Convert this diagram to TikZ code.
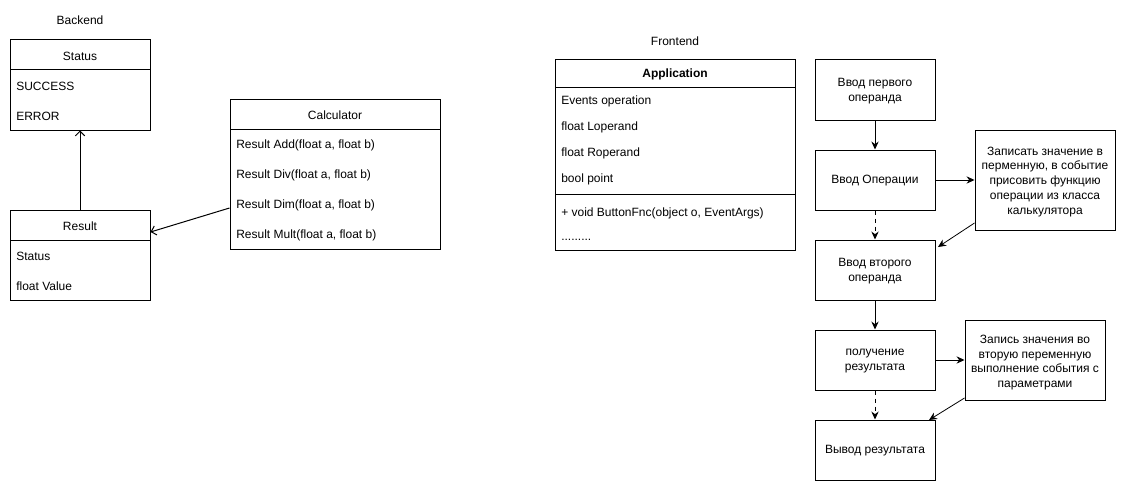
\documentclass[tikz,border=0pt]{standalone}
\usepackage{fontspec}
\setmainfont{Liberation Sans}
\usetikzlibrary{fit,arrows.meta}
\begin{document}
\begin{tikzpicture}[x=0.75pt,y=-0.75pt,
  font=\fontsize{9}{11.25}\selectfont,
  box/.style={draw, line width=0.75pt, inner sep=0pt},
  row/.style={anchor=west, inner sep=0pt, yshift=-0.75pt},
  ctr/.style={inner sep=0pt, align=center, yshift=-0.75pt},
  sep/.style={line width=0.75pt},
  flowarrow/.style={line width=0.75pt, -{Stealth[length=6pt,width=5.5pt,inset=2pt]}},
  dasharrow/.style={flowarrow, dashed, dash pattern=on 3pt off 3pt},
  openarrow/.style={line width=0.75pt, -{Straight Barb[length=3.5pt,width=7pt]}},
  thinarrow/.style={line width=0.6pt, -{Stealth[length=6pt,width=5.5pt,inset=2pt]}}]
\useasboundingbox (0,0) rectangle (1126,492);
\fill[white] (0,0) rectangle (1126,492);

% ---------- Backend ----------
\node[ctr] (backend) at (80,19) {Backend};

\path (10,40) coordinate (st1) (150,130) coordinate (st2);
\node[box, fit=(st1)(st2)] (status) {};
\draw[sep] (10,70) -- (150,70);
\node[ctr] (statush) at (80,55) {Status};
\node[row] (succ) at (16,85) {SUCCESS};
\node[row] (err) at (16,115) {ERROR};

\path (10,210) coordinate (r1) (150,300) coordinate (r2);
\node[box, fit=(r1)(r2)] (result) {};
\draw[sep] (10,240) -- (150,240);
\node[ctr] (resulth) at (80,225) {Result};
\node[row] (rstat) at (16,255) {Status};
\node[row] (rval) at (16,285) {float Value};

\path (230,99) coordinate (c1) (440,249) coordinate (c2);
\node[box, fit=(c1)(c2)] (calc) {};
\draw[sep] (230,129) -- (440,129);
\node[ctr] (calch) at (335,114) {Calculator};
\node[row] (cadd) at (236,144) {Result Add(float a, float b)};
\node[row] (cdiv) at (236,174) {Result Div(float a, float b)};
\node[row] (cdim) at (236,204) {Result Dim(float a, float b)};
\node[row] (cmul) at (236,234) {Result Mult(float a, float b)};

\draw[openarrow] (result.north) -- (status.south);
\coordinate (cfrom) at (calc.west |- 0,208);
\coordinate (cto) at (result.east |- 0,232);
\draw[openarrow] (cfrom) -- (cto);

% ---------- Frontend ----------
\node[ctr] (frontend) at (675,40) {Frontend};

\path (555,60) coordinate (a1) (795,250) coordinate (a2);
\node[box, fit=(a1)(a2)] (app) {};
\draw[sep] (555,87) -- (795,87);
\draw[sep] (555,194) -- (795,194);
\node[ctr, font=\fontsize{9}{11.25}\selectfont\bfseries] (apph) at (675,73.5) {Application};
\node[row] (aev) at (561,100) {Events operation};
\node[row] (alo) at (561,126) {float Loperand};
\node[row] (aro) at (561,152) {float Roperand};
\node[row] (abo) at (561,178) {bool point};
\node[row] (abtn) at (561,212) {+ void ButtonFnc(object o, EventArgs)};
\node[row] (adots) at (561,239) {.........};

% ---------- Flow ----------
\path (815,60) coordinate (f1a) (935,120) coordinate (f1b);
\node[box, fit=(f1a)(f1b)] (f1) {};
\node[ctr] at (f1) {Ввод первого\\операнда};

\path (815,150) coordinate (f2a) (935,210) coordinate (f2b);
\node[box, fit=(f2a)(f2b)] (f2) {};
\node[ctr] at (f2) {Ввод Операции};

\path (975,130) coordinate (s1a) (1115,230) coordinate (s1b);
\node[box, fit=(s1a)(s1b)] (s1) {};
\node[ctr, font=\fontsize{9}{11.1}\selectfont] at ([yshift=-0.5pt]s1.center) {Записать значение в\\перменную, в событие\\присовить функцию\\операции из класса\\калькулятора};

\path (815,240) coordinate (f3a) (935,300) coordinate (f3b);
\node[box, fit=(f3a)(f3b)] (f3) {};
\node[ctr] at (f3) {Ввод второго\\операнда};

\path (815,330) coordinate (f4a) (935,390) coordinate (f4b);
\node[box, fit=(f4a)(f4b)] (f4) {};
\node[ctr] at (f4) {получение\\результата};

\path (965,320) coordinate (s2a) (1105,400) coordinate (s2b);
\node[box, fit=(s2a)(s2b)] (s2) {};
\node[ctr, font=\fontsize{9}{10.9}\selectfont] at ([yshift=-1pt]s2.center) {Запись значения во\\вторую переменную\\выполнение события с\\параметрами};

\path (815,420) coordinate (f5a) (935,480) coordinate (f5b);
\node[box, fit=(f5a)(f5b)] (f5) {};
\node[ctr] at (f5) {Вывод результата};

\draw[flowarrow] (f1.south) -- (f2.north);
\draw[dasharrow] (f2.south) -- (f3.north);
\draw[flowarrow] (f2.east) -- (s1.west |- f2.east);
\coordinate (s1out) at (s1.west |- 0,223);
\coordinate (f3in) at (938,247);
\draw[thinarrow] (s1out) -- (f3in);
\draw[flowarrow] (f3.south) -- (f4.north);
\draw[dasharrow] (f4.south) -- (f5.north);
\draw[flowarrow] (f4.east) -- (s2.west |- f4.east);
\coordinate (s2out) at (s2.west |- 0,398);
\coordinate (f5in) at (929,420);
\draw[thinarrow] (s2out) -- (f5in);
\end{tikzpicture}
\end{document}
